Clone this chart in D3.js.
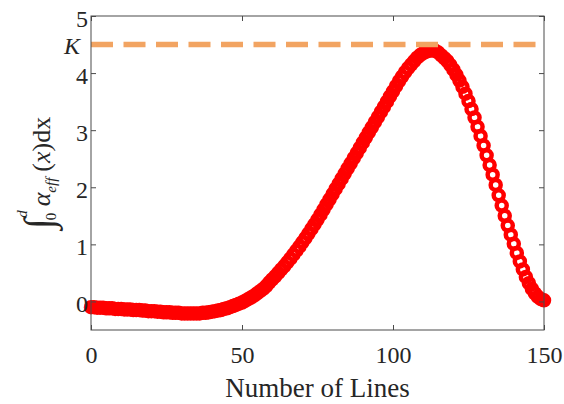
<!DOCTYPE html>
<html><head><meta charset="utf-8">
<script src="https://cdn.jsdelivr.net/npm/d3@7"></script>
<style>
html,body{margin:0;padding:0;background:#fff;}
svg{display:block;}
svg text{font-family:"Liberation Serif","Times New Roman",serif !important;fill:#262626;}
</style>
</head><body>
<svg id="chart" width="564" height="404"></svg>
<script>
// Data
const lineCounts = d3.range(0, 151); // 0..150 number of lines
const integralValues = [
 -0.10,-0.10,-0.11,-0.11,-0.11,-0.12,-0.12,-0.12,-0.13,-0.13,
 -0.13,-0.14,-0.14,-0.14,-0.15,-0.15,-0.15,-0.16,-0.16,-0.17,
 -0.17,-0.17,-0.18,-0.18,-0.19,-0.19,-0.19,-0.20,-0.20,-0.20,
 -0.21,-0.21,-0.21,-0.21,-0.21,-0.21,-0.21,-0.20,-0.20,-0.19,
 -0.18,-0.17,-0.16,-0.15,-0.13,-0.12,-0.10,-0.08,-0.06,-0.04,
 -0.02, 0.01, 0.04, 0.07, 0.10, 0.14, 0.18, 0.22, 0.27, 0.33,
  0.385,0.44, 0.50, 0.56, 0.62, 0.685,0.75, 0.82, 0.89, 0.96,
  1.035,1.11, 1.19, 1.27, 1.35, 1.435,1.52, 1.61, 1.70, 1.79,
  1.88, 1.97, 2.06, 2.15, 2.24, 2.33, 2.42, 2.51, 2.60, 2.69,
  2.78, 2.87, 2.96, 3.05, 3.14, 3.23, 3.32, 3.41, 3.50, 3.59,
  3.68, 3.77, 3.86, 3.94, 4.015,4.085,4.15, 4.21, 4.27, 4.315,
  4.35, 4.375,4.39, 4.40, 4.39, 4.36, 4.31, 4.26, 4.21, 4.14,
  4.06, 3.97, 3.87, 3.76, 3.64, 3.51, 3.37, 3.22, 3.06, 2.90,
  2.73, 2.56, 2.39, 2.22, 2.04, 1.86, 1.68, 1.50, 1.33, 1.17,
  1.01, 0.85, 0.70, 0.56, 0.43, 0.32, 0.22, 0.14, 0.08, 0.04,
  0.02
];
const kValue = [4.5];
const kLabel = ["K"];
const xTicks = [0, 50, 100, 150];
const yTicks = [0, 1, 2, 3, 4, 5];
const xDomain = [0, 150];
const yDomain = [-0.5, 5];
const xTitle = "Number of Lines";

const svg = d3.select("#chart");
const L = 91, R = 544, T = 16, B = 330;
const x = d3.scaleLinear().domain(xDomain).range([L, R]);
const y = d3.scaleLinear().domain(yDomain).range([B, T]);
const axisColor = "#4a4a4a";
const tickLen = 5;
const serif = '"Liberation Serif","Times New Roman",serif';

// markers
const pts = lineCounts.map((n, i) => ({n, v: integralValues[i]}));
svg.append("g").selectAll("circle").data(pts).join("circle")
  .attr("cx", d => x(d.n)).attr("cy", d => y(d.v)).attr("r", 5)
  .attr("fill", "none").attr("stroke", "#ff0000").attr("stroke-width", 4.5);

// K dashed line
svg.append("g").selectAll("line").data(kValue).join("line")
  .attr("x1", x(xDomain[0])).attr("x2", x(xDomain[1]))
  .attr("y1", d => y(d)).attr("y2", d => y(d))
  .attr("stroke", "#f2a462").attr("stroke-width", 5.5)
  .attr("stroke-dasharray", "22,10.5");

function styleAxis(g) {
  g.attr("font-family", serif);
  g.select(".domain").remove();
  g.selectAll(".tick line").attr("stroke", axisColor).attr("stroke-width", 1);
}
// bottom
const gB = svg.append("g").attr("transform", `translate(0,${B})`)
  .call(d3.axisBottom(x).tickValues(xTicks).tickSizeInner(-tickLen).tickSizeOuter(0).tickPadding(0).tickFormat(d3.format("d")));
styleAxis(gB);
gB.selectAll(".tick text").attr("font-size", 24).attr("dy", null).attr("y", 33)
  .style("font-family", serif).attr("fill", "#262626");
// top
const gT = svg.append("g").attr("transform", `translate(0,${T})`)
  .call(d3.axisTop(x).tickValues(xTicks).tickSizeInner(-tickLen).tickSizeOuter(0).tickFormat(""));
styleAxis(gT);
// left
const gL = svg.append("g").attr("transform", `translate(${L},0)`)
  .call(d3.axisLeft(y).tickValues(yTicks).tickSizeInner(-tickLen).tickSizeOuter(0).tickFormat(d3.format("d")));
styleAxis(gL);
gL.selectAll(".tick text").attr("font-size", 24).attr("dy", null).attr("y", 10).attr("x", -3)
  .style("font-family", serif).attr("fill", "#262626");
// right
const gR = svg.append("g").attr("transform", `translate(${R},0)`)
  .call(d3.axisRight(y).tickValues(yTicks).tickSizeInner(-tickLen).tickSizeOuter(0).tickFormat(""));
styleAxis(gR);

// box
svg.append("rect").attr("x", L).attr("y", T).attr("width", R - L).attr("height", B - T)
  .attr("fill", "none").attr("stroke", axisColor).attr("stroke-width", 1);

// K label
svg.append("g").selectAll("text").data(kValue).join("text")
  .attr("x", 80).attr("y", d => y(d) + 9.5).attr("text-anchor", "end")
  .attr("font-size", 24).attr("font-style", "italic").text((d, i) => kLabel[i]);

// x title
svg.append("text").attr("x", (L + R) / 2).attr("y", 397).attr("text-anchor", "middle")
  .attr("font-size", 27).text(xTitle);

// y title
const yt = svg.append("text").attr("transform", `translate(50,${(T + B) / 2}) rotate(-90)`)
  .attr("text-anchor", "middle").attr("font-size", 26);
yt.append("tspan").attr("font-size", 40).attr("dy", 2).text("\u222B");
yt.append("tspan").attr("font-size", 15).attr("dy", 4).attr("dx", -2).text("0");
yt.append("tspan").attr("font-size", 15).attr("font-style", "italic").attr("dx", -5).attr("dy", -29).text("d");
yt.append("tspan").attr("font-style", "italic").attr("dx", 4).attr("dy", 23).text("\u03B1");
yt.append("tspan").attr("font-style", "italic").attr("font-size", 15).attr("dy", 6).text("eff");
yt.append("tspan").attr("dy", -6).attr("dx", 6).text("(");
yt.append("tspan").attr("font-style", "italic").text("x");
yt.append("tspan").text(")dx");
</script>
</body></html>
